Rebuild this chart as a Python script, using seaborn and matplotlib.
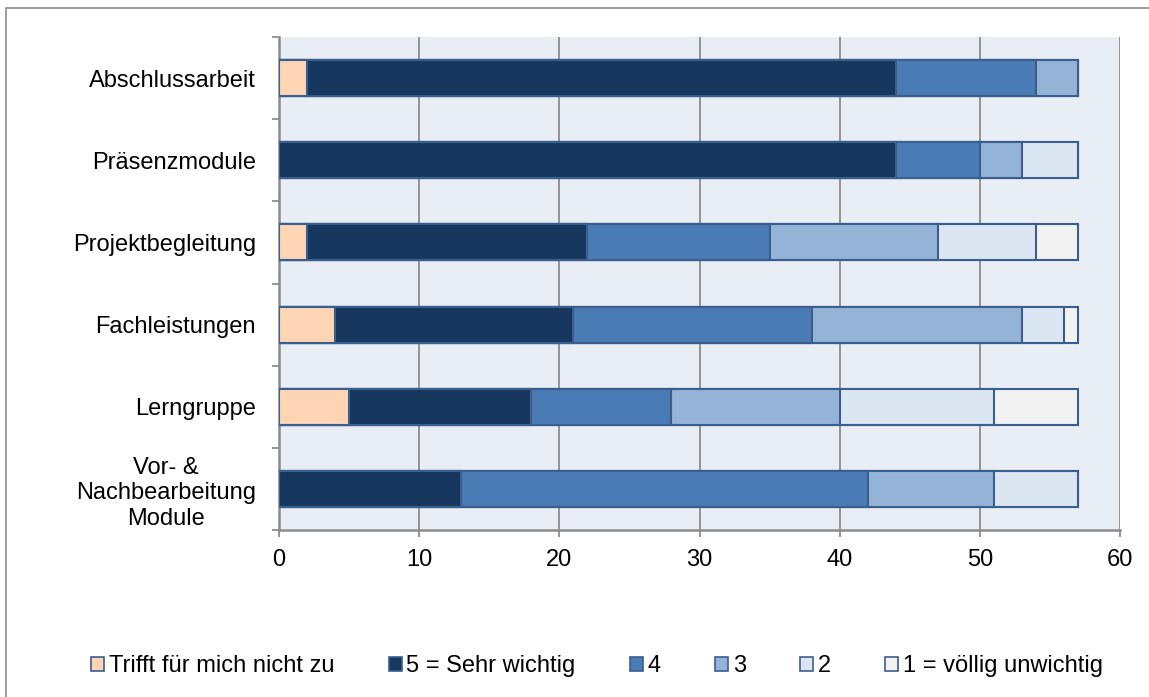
import matplotlib
matplotlib.use("Agg")
import matplotlib.pyplot as plt
from matplotlib.patches import Patch, Rectangle
from matplotlib.ticker import MultipleLocator
import numpy as np
import pandas as pd
import seaborn as sns

categories = [
    "Abschlussarbeit",
    "Präsenzmodule",
    "Projektbegleitung",
    "Fachleistungen",
    "Lerngruppe",
    "Vor- &\nNachbearbeitung\nModule",
]
series_names = [
    "Trifft für mich nicht zu",
    "5 = Sehr wichtig",
    "4",
    "3",
    "2",
    "1 = völlig unwichtig",
]
trifft_nicht_zu = [2, 0, 2, 4, 5, 0]
sehr_wichtig_5 = [42, 44, 20, 17, 13, 13]
wichtig_4 = [10, 6, 13, 17, 10, 29]
mittel_3 = [3, 3, 12, 15, 12, 9]
wenig_2 = [0, 4, 7, 3, 11, 6]
unwichtig_1 = [0, 0, 3, 1, 6, 0]

colors = ["#FCD5B5", "#17375E", "#4A7BB4", "#95B3D7", "#DCE6F2", "#F2F2F2"]
edge_color = "#3A5F8E"
axis_gray = "#8C8C8C"
FS = 17

sns.set_theme(style="white")
plt.rcParams["font.family"] = ["Liberation Sans", "DejaVu Sans"]
plt.rcParams["text.color"] = "black"

series = [trifft_nicht_zu, sehr_wichtig_5, wichtig_4, mittel_3, wenig_2, unwichtig_1]
cum = np.cumsum(np.array(series), axis=0)

W, H = 1149, 697
fig = plt.figure(figsize=(W / 100, H / 100), dpi=100)
ax = fig.add_axes([279 / W, 1 - 530 / H, (1120 - 279) / W, (530 - 37) / H])
ax.set_facecolor("#E9EDF4")

# stacked bars: draw cumulative totals from the outermost segment inwards
for i in range(len(series) - 1, -1, -1):
    df = pd.DataFrame({"Kategorie": categories, "Wert": cum[i]})
    sns.barplot(
        data=df, y="Kategorie", x="Wert", order=categories, orient="h",
        color=colors[i], saturation=1, width=0.44, edgecolor=edge_color,
        linewidth=1.5, ax=ax, zorder=3,
    )

ax.set_xlim(0, 60)
ax.set_ylim(len(categories) - 0.5, -0.5)
ax.xaxis.set_major_locator(MultipleLocator(10))
ax.grid(axis="x", color=axis_gray, linewidth=1.3, zorder=0)
ax.set_axisbelow(True)
ax.set_xlabel("")
ax.set_ylabel("")

for side in ["top", "right"]:
    ax.spines[side].set_visible(False)
for side in ["left", "bottom"]:
    ax.spines[side].set_color(axis_gray)
    ax.spines[side].set_linewidth(1.8)

ax.tick_params(axis="x", which="major", length=5, width=1.3, color=axis_gray,
               direction="out", pad=8.5, labelsize=FS, labelcolor="black", bottom=True)
ax.set_yticks(range(len(categories)))
ax.set_yticklabels(categories, fontsize=FS, multialignment="center")
ax.tick_params(axis="y", which="major", length=0, pad=16.5, labelcolor="black")
ax.set_yticks(np.arange(-0.5, len(categories), 1.0), minor=True)
ax.tick_params(axis="y", which="minor", length=5, width=1.3, color=axis_gray,
               direction="out", left=True)

handles = [Patch(facecolor=c, edgecolor=edge_color, linewidth=1.2) for c in colors]
fig.legend(handles, series_names, loc="center", bbox_to_anchor=(597 / W, 1 - 666 / H),
           ncol=6, frameon=False, fontsize=FS, handlelength=0.55, handleheight=0.55,
           handletextpad=0.2, columnspacing=2.3, borderpad=0, borderaxespad=0,
           labelcolor="black")

# outer chart frame
fig.add_artist(Rectangle((6 / W, -0.05), 1.1, 1 - 8 / H + 0.05,
                         transform=fig.transFigure, fill=False,
                         edgecolor=axis_gray, linewidth=1.2))

fig.savefig("out.png", dpi=100, facecolor="white")
